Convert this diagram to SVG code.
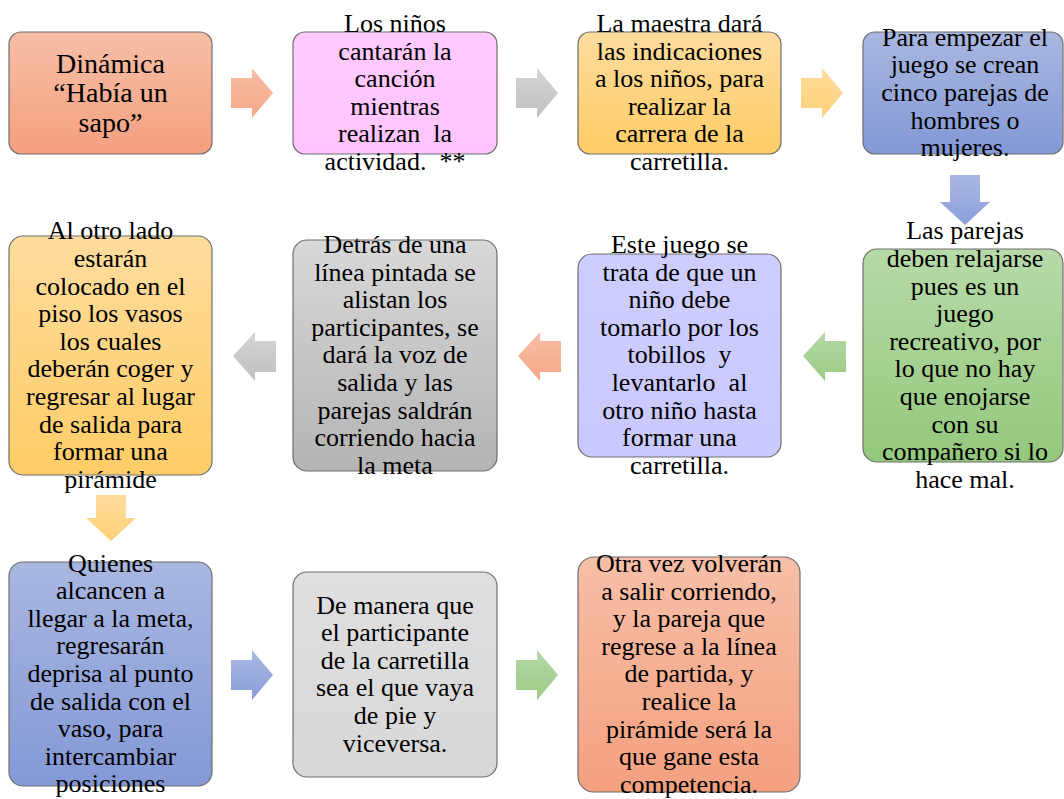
<svg xmlns="http://www.w3.org/2000/svg" width="1064" height="799" viewBox="0 0 1064 799">
<defs>
<linearGradient id="gSalmon" x1="0" y1="0" x2="0" y2="1"><stop offset="0" stop-color="#F7BFA8"/><stop offset="1" stop-color="#F4A07F"/></linearGradient>
<linearGradient id="gPink" x1="0" y1="0" x2="0" y2="1"><stop offset="0" stop-color="#FFCAFF"/><stop offset="1" stop-color="#FFC4FF"/></linearGradient>
<linearGradient id="gYellow" x1="0" y1="0" x2="0" y2="1"><stop offset="0" stop-color="#FEDC9E"/><stop offset="1" stop-color="#FFCD66"/></linearGradient>
<linearGradient id="gBlue" x1="0" y1="0" x2="0" y2="1"><stop offset="0" stop-color="#A9B7E0"/><stop offset="1" stop-color="#8398D6"/></linearGradient>
<linearGradient id="gGray" x1="0" y1="0" x2="0" y2="1"><stop offset="0" stop-color="#D8D8D8"/><stop offset="1" stop-color="#B4B4B4"/></linearGradient>
<linearGradient id="gLav" x1="0" y1="0" x2="0" y2="1"><stop offset="0" stop-color="#CDCDFF"/><stop offset="1" stop-color="#C9C9FE"/></linearGradient>
<linearGradient id="gGreen" x1="0" y1="0" x2="0" y2="1"><stop offset="0" stop-color="#B7DAA8"/><stop offset="1" stop-color="#94C87C"/></linearGradient>
<linearGradient id="gLight" x1="0" y1="0" x2="0" y2="1"><stop offset="0" stop-color="#DFDFDF"/><stop offset="1" stop-color="#D8D8D8"/></linearGradient>
<linearGradient id="aSalmon" x1="0" y1="0" x2="0" y2="1"><stop offset="0" stop-color="#F7BEA7"/><stop offset="1" stop-color="#F5A888"/></linearGradient>
<linearGradient id="aGray" x1="0" y1="0" x2="0" y2="1"><stop offset="0" stop-color="#D4D4D4"/><stop offset="1" stop-color="#C0C0C0"/></linearGradient>
<linearGradient id="aYellow" x1="0" y1="0" x2="0" y2="1"><stop offset="0" stop-color="#FFDC9E"/><stop offset="1" stop-color="#FFD178"/></linearGradient>
<linearGradient id="aBlue" x1="0" y1="0" x2="0" y2="1"><stop offset="0" stop-color="#AAB8E1"/><stop offset="1" stop-color="#8A9EDA"/></linearGradient>
<linearGradient id="aGreen" x1="0" y1="0" x2="0" y2="1"><stop offset="0" stop-color="#B5D8A6"/><stop offset="1" stop-color="#9CCB86"/></linearGradient>
</defs>
<style>
.box{stroke:#6f6f6f;stroke-width:1.2}
text{font-family:"Liberation Serif","Times New Roman",serif;font-size:26px;fill:#000;text-anchor:middle}
.big{font-size:28px}
</style>

<g id="connectors">
<polygon fill="url(#aSalmon)" points="231,78 252,78 252,68 273,93 252,118 252,108 231,108"/>
<polygon fill="url(#aGray)" points="516,78 537,78 537,68 558,93 537,118 537,108 516,108"/>
<polygon fill="url(#aYellow)" points="801,78 822,78 822,68 843,93 822,118 822,108 801,108"/>
<polygon fill="url(#aBlue)" points="950,175 980,175 980,202 990,202 965,225 940,202 950,202"/>
<polygon fill="url(#aGreen)" points="803,356 825,332 825,341 846,341 846,372 825,372 825,381"/>
<polygon fill="url(#aSalmon)" points="518,356 540,332 540,341 561,341 561,372 540,372 540,381"/>
<polygon fill="url(#aGray)" points="233,356 255,332 255,341 276,341 276,372 255,372 255,381"/>
<polygon fill="url(#aYellow)" points="96,495 126,495 126,518 136,518 111,541 86,518 96,518"/>
<polygon fill="url(#aBlue)" points="231,660 252,660 252,650 273,675 252,700 252,690 231,690"/>
<polygon fill="url(#aGreen)" points="516,660 537,660 537,650 558,675 537,700 537,690 516,690"/>
</g>

<g font-family="Liberation Serif, Times New Roman, serif">
<g id="n1">
<rect class="box" x="9" y="32" width="203" height="122" rx="12" fill="url(#gSalmon)" stroke="#7a665e"/>
<text class="big" x="110.5" y="73">Dinámica</text>
<text class="big" x="110.5" y="102.3">“Había un</text>
<text class="big" x="110.5" y="131.6">sapo”</text>
</g>

<g id="n2">
<rect class="box" x="293" y="32" width="204" height="122" rx="12" fill="url(#gPink)" stroke="#857785"/>
<text x="395" y="32">Los niños</text>
<text x="395" y="59.6">cantarán la</text>
<text x="395" y="87.2">canción</text>
<text x="395" y="114.8">mientras</text>
<text x="395" y="142.4">realizan&#160; la</text>
<text x="395" y="170">actividad.&#160; **</text>
</g>

<g id="n3">
<rect class="box" x="578" y="32" width="203" height="122" rx="12" fill="url(#gYellow)" stroke="#7a6e55"/>
<text x="679.5" y="32">La maestra dará</text>
<text x="679.5" y="59.6">las indicaciones</text>
<text x="679.5" y="87.2">a los niños, para</text>
<text x="679.5" y="114.8">realizar la</text>
<text x="679.5" y="142.4">carrera de la</text>
<text x="679.5" y="170">carretilla.</text>
</g>

<g id="n4">
<rect class="box" x="863" y="32" width="200" height="122" rx="12" fill="url(#gBlue)" stroke="#5f6575"/>
<text x="965" y="45.8">Para empezar el</text>
<text x="965" y="73.4">juego se crean</text>
<text x="965" y="101">cinco parejas de</text>
<text x="965" y="128.6">hombres o</text>
<text x="965" y="156.2">mujeres.</text>
</g>

<g id="n5">
<rect class="box" x="863" y="249" width="200" height="213" rx="14" fill="url(#gGreen)" stroke="#627a58"/>
<text x="965" y="239.3">Las parejas</text>
<text x="965" y="266.9">deben relajarse</text>
<text x="965" y="294.5">pues es un</text>
<text x="965" y="322.1">juego</text>
<text x="965" y="349.7">recreativo, por</text>
<text x="965" y="377.3">lo que no hay</text>
<text x="965" y="404.9">que enojarse</text>
<text x="965" y="432.5">con su</text>
<text x="965" y="460.1">compañero si lo</text>
<text x="965" y="487.7">hace mal.</text>
</g>

<g id="n6">
<rect class="box" x="578" y="254" width="203" height="203" rx="14" fill="url(#gLav)" stroke="#75758a"/>
<text x="679.5" y="253">Este juego se</text>
<text x="679.5" y="280.6">trata de que un</text>
<text x="679.5" y="308.2">niño debe</text>
<text x="679.5" y="335.8">tomarlo por los</text>
<text x="679.5" y="363.4">tobillos&#160; y</text>
<text x="679.5" y="391">levantarlo&#160; al</text>
<text x="679.5" y="418.6">otro niño hasta</text>
<text x="679.5" y="446.2">formar una</text>
<text x="679.5" y="473.8">carretilla.</text>
</g>

<g id="n7">
<rect class="box" x="293" y="240" width="204" height="231" rx="14" fill="url(#gGray)" stroke="#6a6a6a"/>
<text x="395" y="253">Detrás de una</text>
<text x="395" y="280.6">línea pintada se</text>
<text x="395" y="308.2">alistan los</text>
<text x="395" y="335.8">participantes, se</text>
<text x="395" y="363.4">dará la voz de</text>
<text x="395" y="391">salida y las</text>
<text x="395" y="418.6">parejas saldrán</text>
<text x="395" y="446.2">corriendo hacia</text>
<text x="395" y="473.8">la meta</text>
</g>

<g id="n8">
<rect class="box" x="9" y="236" width="203" height="239" rx="14" fill="url(#gYellow)" stroke="#7a6e55"/>
<text x="110.5" y="239.3">Al otro lado</text>
<text x="110.5" y="266.9">estarán</text>
<text x="110.5" y="294.5">colocado en el</text>
<text x="110.5" y="322.1">piso los vasos</text>
<text x="110.5" y="349.7">los cuales</text>
<text x="110.5" y="377.3">deberán coger y</text>
<text x="110.5" y="404.9">regresar al lugar</text>
<text x="110.5" y="432.5">de salida para</text>
<text x="110.5" y="460.1">formar una</text>
<text x="110.5" y="487.7">pirámide</text>
</g>

<g id="n9">
<rect class="box" x="9" y="562" width="203" height="224" rx="14" fill="url(#gBlue)" stroke="#5f6575"/>
<text x="110.5" y="571.6">Quienes</text>
<text x="110.5" y="599.2">alcancen a</text>
<text x="110.5" y="626.8">llegar a la meta,</text>
<text x="110.5" y="654.4">regresarán</text>
<text x="110.5" y="682">deprisa al punto</text>
<text x="110.5" y="709.6">de salida con el</text>
<text x="110.5" y="737.2">vaso, para</text>
<text x="110.5" y="764.8">intercambiar</text>
<text x="110.5" y="792.4">posiciones</text>
</g>

<g id="n10">
<rect class="box" x="293" y="572" width="204" height="205" rx="14" fill="url(#gLight)" stroke="#6a6a6a"/>
<text x="395" y="613.5">De manera que</text>
<text x="395" y="641.1">el participante</text>
<text x="395" y="668.7">de la carretilla</text>
<text x="395" y="696.3">sea el que vaya</text>
<text x="395" y="723.9">de pie y</text>
<text x="395" y="751.5">viceversa.</text>
</g>

<g id="n11">
<rect class="box" x="578" y="557" width="222" height="235" rx="16" fill="url(#gSalmon)" stroke="#7a665e"/>
<text x="689" y="572">Otra vez volverán</text>
<text x="689" y="599.6">a salir corriendo,</text>
<text x="689" y="627.2">y la pareja que</text>
<text x="689" y="654.8">regrese a la línea</text>
<text x="689" y="682.4">de partida, y</text>
<text x="689" y="710">realice la</text>
<text x="689" y="737.6">pirámide será la</text>
<text x="689" y="765.2">que gane esta</text>
<text x="689" y="792.8">competencia.</text>
</g>
</g>
</svg>
